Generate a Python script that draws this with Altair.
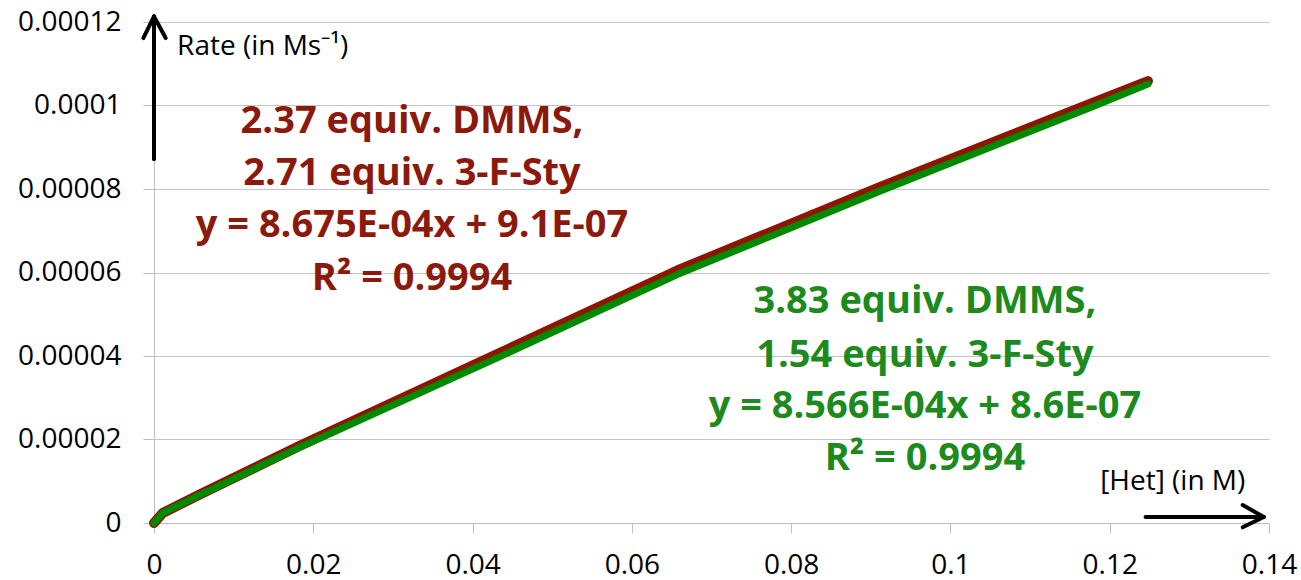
import altair as alt
import pandas as pd

# [Het] concentration (M) along each run
het = [0, 0.0011, 0.0058, 0.0183, 0.0431, 0.0657, 0.0912, 0.1176, 0.1248]
# Rate (M s^-1) for the two conditions
rate_dmms_237 = [0, 2.4e-6, 6.87e-6, 1.85e-5, 4.045e-5, 6.05e-5, 8.05e-5, 1.0045e-4, 1.0585e-4]
rate_dmms_383 = [0, 2.4e-6, 6.73e-6, 1.81e-5, 3.955e-5, 5.95e-5, 7.95e-5, 9.955e-5, 1.0515e-4]

x_ticks = [0, 0.02, 0.04, 0.06, 0.08, 0.1, 0.12, 0.14]
y_ticks = [0, 0.00002, 0.00004, 0.00006, 0.00008, 0.0001, 0.00012]

RED_LINE = "#8E1600"
GREEN_LINE = "#008A00"
RED_TEXT = "#8B1A0C"
GREEN_TEXT = "#1E8A1E"

red_lines = ["2.37 equiv. DMMS,", "2.71 equiv. 3-F-Sty",
             "y = 8.675E-04x + 9.1E-07", "R\u00b2 = 0.9994"]
green_lines = ["3.83 equiv. DMMS,", "1.54 equiv. 3-F-Sty",
               "y = 8.566E-04x + 8.6E-07", "R\u00b2 = 0.9994"]
red_text_x = 0.0324
red_text_y = [9.346e-5, 8.10e-5, 6.85e-5, 5.58e-5]
green_text_x = 0.0968
green_text_y = [5.03e-5, 3.74e-5, 2.52e-5, 1.27e-5]

series = pd.DataFrame({"het": het, "red": rate_dmms_237, "green": rate_dmms_383})

x_scale = alt.Scale(domain=[0, 0.14], nice=False, zero=False)
y_scale = alt.Scale(domain=[0, 0.00012], nice=False, zero=False)

x_axis = alt.Axis(values=x_ticks, format="~g", grid=False, title=None,
                  tickSize=10, tickColor="#BFBFBF", domainColor="#BFBFBF",
                  labelFont="Open Sans", labelFontSize=28, labelColor="black",
                  labelPadding=18, labelOverlap=False, labelFlush=False)
y_axis = alt.Axis(values=y_ticks, format="~g", grid=True, gridColor="#C4C4C4",
                  title=None, tickSize=11, tickColor="#BFBFBF", domainColor="#BFBFBF",
                  labelFont="Open Sans", labelFontSize=28, labelColor="black",
                  labelPadding=22, labelOverlap=False, labelFlush=False)

base = alt.Chart(series)
red = base.mark_line(color=RED_LINE, strokeWidth=10, strokeCap="round", strokeJoin="round").encode(
    x=alt.X("het:Q", scale=x_scale, axis=x_axis),
    y=alt.Y("red:Q", scale=y_scale, axis=y_axis),
)
green = base.mark_line(color=GREEN_LINE, strokeWidth=7, strokeCap="round", strokeJoin="round").encode(
    x=alt.X("het:Q", scale=x_scale),
    y=alt.Y("green:Q", scale=y_scale),
)

labels = pd.DataFrame({
    "text": red_lines + green_lines,
    "x": [red_text_x] * 4 + [green_text_x] * 4,
    "y": red_text_y + green_text_y,
    "color": [RED_TEXT] * 4 + [GREEN_TEXT] * 4,
})
annot = alt.Chart(labels).mark_text(font="Open Sans", fontWeight="bold", fontSize=38,
                                     align="center", baseline="alphabetic").encode(
    x=alt.X("x:Q", scale=x_scale),
    y=alt.Y("y:Q", scale=y_scale),
    text="text:N",
    color=alt.Color("color:N", scale=None),
)

axis_titles = pd.DataFrame({
    "text": ["Rate (in Ms\u207b\u00b9)", "[Het] (in M)"],
    "x": [0.0029, 0.1188],
    "y": [1.1215e-4, 7.9e-6],
})
titles = alt.Chart(axis_titles).mark_text(font="Open Sans", fontSize=28, color="black",
                                          align="left", baseline="alphabetic").encode(
    x=alt.X("x:Q", scale=x_scale),
    y=alt.Y("y:Q", scale=y_scale),
    text="text:N",
)

# Arrow segments: shafts and heads for the two axis arrows
arrows = pd.DataFrame({
    "x1": [0, -0.00134, 0.00147, 0.1245, 0.1367, 0.1367],
    "y1": [8.715e-5, 1.1615e-4, 1.1615e-4, 1.44e-6, 4.31e-6, -1.03e-6],
    "x2": [0, 0, 0, 0.13934, 0.13934, 0.13934],
    "y2": [1.2133e-4, 1.2133e-4, 1.2133e-4, 1.44e-6, 1.44e-6, 1.44e-6],
})
arrow = alt.Chart(arrows).mark_rule(color="black", strokeWidth=4, strokeCap="round").encode(
    x=alt.X("x1:Q", scale=x_scale),
    y=alt.Y("y1:Q", scale=y_scale),
    x2="x2:Q",
    y2="y2:Q",
)

chart = alt.layer(red, green, annot, titles, arrow).properties(
    width=1115, height=501,
    autosize="none",
    padding={"left": 154, "top": 22, "right": 32, "bottom": 57},
    background="white",
).configure_view(stroke=None)

chart.save("out.html", embed_options={"renderer": "svg", "actions": False})
